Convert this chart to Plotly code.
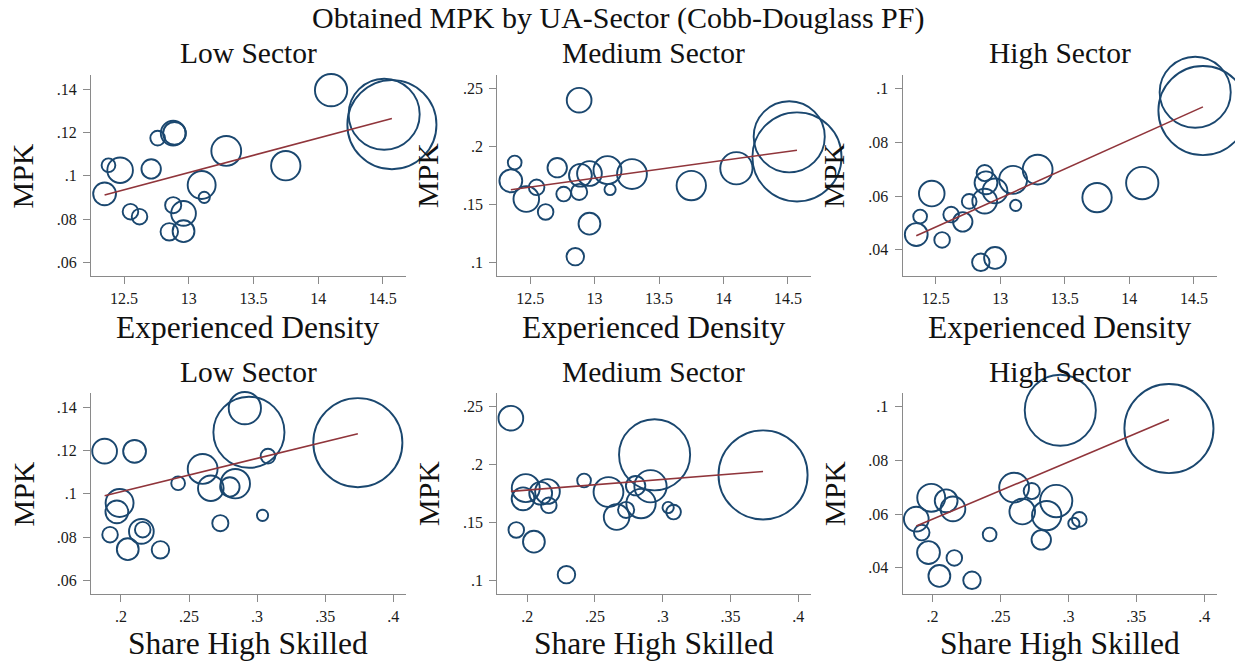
import numpy as np
import plotly.graph_objects as go

# Urban areas: experienced density (log), share of high-skilled workers, weight
ua_density = [12.35, 12.38, 12.47, 12.55, 12.62, 12.71, 12.76, 12.88, 12.89, 12.88,
              12.85, 12.96, 12.96, 13.10, 13.12, 13.29, 13.75, 14.10, 14.51, 14.57]
ua_share_high_skilled = [0.197, 0.242, 0.266, 0.216, 0.192, 0.280, 0.308, 0.188, 0.210, 0.273,
                         0.229, 0.215, 0.205, 0.199, 0.304, 0.260, 0.284, 0.291, 0.294, 0.374]
ua_weight = [58, 21, 73, 27, 27, 42, 24, 68, 58, 29,
             34, 68, 53, 87, 14, 99, 96, 116, 563, 884]

# Obtained MPK by sector
mpk_low = [0.0917, 0.1049, 0.1026, 0.0835, 0.0812, 0.1032, 0.1174, 0.1197, 0.1196, 0.0865,
           0.0742, 0.0827, 0.0745, 0.0958, 0.0901, 0.1115, 0.1047, 0.1395, 0.1284, 0.1236]
mpk_medium = [0.1704, 0.1862, 0.1547, 0.1648, 0.1436, 0.1817, 0.1590, 0.2398, 0.1752, 0.1608,
              0.1051, 0.1767, 0.1335, 0.1796, 0.1629, 0.1762, 0.1663, 0.1812, 0.2083, 0.1910]
mpk_high = [0.0457, 0.0524, 0.0609, 0.0437, 0.0531, 0.0504, 0.0580, 0.0581, 0.0649, 0.0685,
            0.0354, 0.0619, 0.0370, 0.0660, 0.0565, 0.0698, 0.0594, 0.0648, 0.0985, 0.0917]

sector_names = ["Low Sector", "Medium Sector", "High Sector"]
x_titles = ["Experienced Density", "Share High Skilled"]
y_title = "MPK"
main_title = "Obtained MPK by UA-Sector (Cobb-Douglass PF)"

density_ticks = [12.5, 13, 13.5, 14, 14.5]
density_tick_text = ["12.5", "13", "13.5", "14", "14.5"]
share_ticks = [0.2, 0.25, 0.3, 0.35, 0.4]
share_tick_text = [".2", ".25", ".3", ".35", ".4"]
mpk_ticks = [[0.06, 0.08, 0.10, 0.12, 0.14],
             [0.10, 0.15, 0.20, 0.25],
             [0.04, 0.06, 0.08, 0.10]]
mpk_tick_text = [[".06", ".08", ".1", ".12", ".14"],
                 [".1", ".15", ".2", ".25"],
                 [".04", ".06", ".08", ".1"]]

# ---- geometry (pixels) ----
W, H = 1235, 663
col_px = [(91, 405.5), (497.3, 810.5), (902.7, 1216.5)]
row_px = [(75, 276.3), (393, 594.3)]
x_ranges = [[12.245, 14.675], [0.178, 0.409]]
y_ranges = [[0.0537, 0.1465], [0.0882, 0.2615], [0.0302, 0.1049]]

FONT = "'Liberation Serif', 'DejaVu Serif', Times, serif"
NAVY = "#1a476f"
MAROON = "#90353b"
AXIS_GREY = "#8a8a8a"
MAX_DIAM = 63.0


def px_x(p):
    return p / W


def px_y(p):
    return 1 - p / H


sectors = [mpk_low, mpk_medium, mpk_high]
x_vars = [ua_density, ua_share_high_skilled]
x_ticks = [(density_ticks, density_tick_text), (share_ticks, share_tick_text)]

sizeref = max(ua_weight) / MAX_DIAM ** 2

fig = go.Figure()
layout = {}
annotations = []

for r in range(2):
    for c in range(3):
        idx = r * 3 + c + 1
        xa = "x" if idx == 1 else f"x{idx}"
        ya = "y" if idx == 1 else f"y{idx}"
        x = np.array(x_vars[r], dtype=float)
        y = np.array(sectors[c], dtype=float)
        w = np.array(ua_weight, dtype=float)

        fig.add_trace(go.Scatter(
            x=x, y=y, mode="markers", xaxis=xa, yaxis=ya,
            marker=dict(symbol="circle-open", size=w, sizemode="area", sizeref=sizeref,
                        color=NAVY, opacity=1, line=dict(width=1.9, color=NAVY)),
            cliponaxis=False, showlegend=False, hoverinfo="skip"))

        # weighted linear fit
        slope, intercept = np.polyfit(x, y, 1, w=np.sqrt(w))
        xs = np.array([x.min(), x.max()])
        fig.add_trace(go.Scatter(
            x=xs, y=intercept + slope * xs, mode="lines", xaxis=xa, yaxis=ya,
            line=dict(color=MAROON, width=1.6), showlegend=False, hoverinfo="skip"))

        axis_common = dict(showline=True, linecolor=AXIS_GREY, linewidth=1.3,
                           ticks="outside", ticklen=7, tickwidth=1.3, tickcolor=AXIS_GREY,
                           showgrid=False, zeroline=False, mirror=False,
                           tickfont=dict(family=FONT, size=16, color="#1a1a1a"))
        x0, x1 = col_px[c]
        y0, y1 = row_px[r]
        layout["xaxis" if idx == 1 else f"xaxis{idx}"] = dict(
            axis_common, domain=[px_x(x0), px_x(x1)], range=x_ranges[r],
            tickvals=x_ticks[r][0], ticktext=x_ticks[r][1],
            anchor=ya)
        layout["yaxis" if idx == 1 else f"yaxis{idx}"] = dict(
            axis_common, domain=[px_y(y1), px_y(y0)], range=y_ranges[c],
            tickvals=mpk_ticks[c], ticktext=mpk_tick_text[c],
            anchor=xa, ticklabelstandoff=3)

        cx = (x0 + x1) / 2
        annotations.append(dict(text=sector_names[c], x=px_x(cx), y=px_y(53 if r == 0 else 372),
                                xref="paper", yref="paper", showarrow=False,
                                xanchor="center", yanchor="middle",
                                font=dict(family=FONT, size=29.5, color="#111")))
        annotations.append(dict(text=x_titles[r], x=px_x(cx), y=px_y(327 if r == 0 else 643),
                                xref="paper", yref="paper", showarrow=False,
                                xanchor="center", yanchor="middle",
                                font=dict(family=FONT, size=31.5, color="#111")))
        annotations.append(dict(text=y_title, x=px_x([22.5, 428, 834][c]),
                                y=px_y(176 if r == 0 else 494),
                                xref="paper", yref="paper", showarrow=False, textangle=-90,
                                xanchor="center", yanchor="middle",
                                font=dict(family=FONT, size=30, color="#111")))

annotations.append(dict(text=main_title, x=0.5, y=px_y(18), xref="paper", yref="paper",
                        showarrow=False, xanchor="center", yanchor="middle",
                        font=dict(family=FONT, size=30, color="#111")))

fig.update_layout(width=W, height=H, margin=dict(l=0, r=0, t=0, b=0),
                  paper_bgcolor="white", plot_bgcolor="white",
                  font=dict(family=FONT),
                  annotations=annotations, **layout)

fig.write_html("out.html")
